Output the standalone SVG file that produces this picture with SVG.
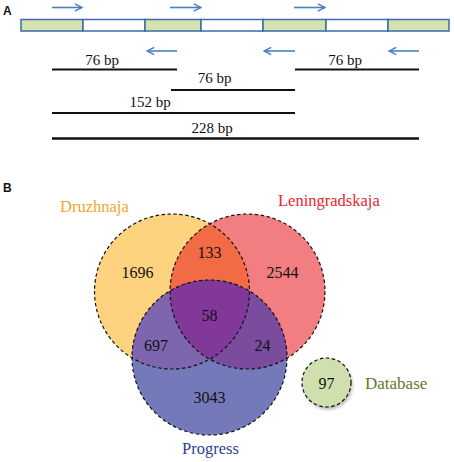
<svg xmlns="http://www.w3.org/2000/svg" width="454" height="462" viewBox="0 0 454 462">
<style>
.lbl{font-family:"Liberation Sans",Arial,sans-serif;font-weight:bold;font-size:12px;fill:#111}
.t{font-family:"Liberation Serif","Times New Roman",serif;font-size:15px;fill:#111;text-anchor:middle}
.n{font-family:"Liberation Serif","Times New Roman",serif;font-size:16px;fill:#111;text-anchor:middle}
.name{font-family:"Liberation Serif","Times New Roman",serif;font-size:16.5px}
.seg{stroke:#3d6ba8;stroke-width:1.5}
.g{fill:#d4e2af}
.w{fill:#fff}
.arr{stroke:#4a80c4;stroke-width:1.6;fill:none}
.bar{stroke:#111;stroke-width:2}
.out{fill:none;stroke:#111;stroke-width:1.2;stroke-dasharray:3.5 2.5}
</style>
<defs>
<marker id="ah" viewBox="0 0 10 10" refX="9" refY="5" markerWidth="9" markerHeight="9" markerUnits="userSpaceOnUse" orient="auto">
<path d="M1,1 L9,5 L1,9" fill="none" stroke="#4a80c4" stroke-width="1.6"/>
</marker>
<clipPath id="cD"><circle cx="172" cy="291.5" r="77.5"/></clipPath>
<clipPath id="cL"><circle cx="247.5" cy="291.5" r="77.5"/></clipPath>
<filter id="sh" x="-30%" y="-30%" width="160%" height="160%"><feGaussianBlur stdDeviation="1.5"/></filter>
</defs>

<text class="lbl" x="3" y="15">A</text>
<g id="gene">
<rect class="seg g" x="21" y="19.5" width="62" height="11.5"/>
<rect class="seg w" x="83" y="19.5" width="62" height="11.5"/>
<rect class="seg g" x="145" y="19.5" width="56" height="11.5"/>
<rect class="seg w" x="201" y="19.5" width="62" height="11.5"/>
<rect class="seg g" x="263" y="19.5" width="63" height="11.5"/>
<rect class="seg w" x="326" y="19.5" width="62" height="11.5"/>
<rect class="seg g" x="388" y="19.5" width="61" height="11.5"/>
</g>
<g id="primers">
<line class="arr" x1="52" y1="7.5" x2="82" y2="7.5" marker-end="url(#ah)"/>
<line class="arr" x1="170" y1="7.5" x2="201" y2="7.5" marker-end="url(#ah)"/>
<line class="arr" x1="294" y1="7.5" x2="325" y2="7.5" marker-end="url(#ah)"/>
<line class="arr" x1="177" y1="51" x2="147" y2="51" marker-end="url(#ah)"/>
<line class="arr" x1="295" y1="51" x2="264" y2="51" marker-end="url(#ah)"/>
<line class="arr" x1="419" y1="51" x2="389" y2="51" marker-end="url(#ah)"/>
</g>
<g id="products">
<line class="bar" x1="52" y1="69.5" x2="177" y2="69.5"/>
<text class="t" x="102" y="65">76 bp</text>
<line class="bar" x1="295" y1="69.5" x2="419" y2="69.5"/>
<text class="t" x="345" y="65">76 bp</text>
<line class="bar" x1="171" y1="90" x2="295" y2="90"/>
<text class="t" x="214.5" y="83">76 bp</text>
<line class="bar" x1="52" y1="113" x2="295" y2="113"/>
<text class="t" x="150" y="107">152 bp</text>
<line class="bar" x1="52" y1="138.5" x2="419" y2="138.5" style="stroke-width:2.4"/>
<text class="t" x="212" y="132.5">228 bp</text>
</g>

<text class="lbl" x="3" y="192">B</text>
<g id="venn">
<circle id="Druzhnaja" cx="172" cy="291.5" r="77.5" fill="#fed37f"/>
<circle id="Leningradskaja" cx="247.5" cy="291.5" r="77.5" fill="#f37e82"/>
<circle cx="247.5" cy="291.5" r="77.5" fill="#f36b45" clip-path="url(#cD)"/>
<circle id="Progress" cx="209.5" cy="357.5" r="77.5" fill="#7479ba"/>
<circle cx="209.5" cy="357.5" r="77.5" fill="#7e66ae" clip-path="url(#cD)"/>
<circle cx="209.5" cy="357.5" r="77.5" fill="#7b4b9e" clip-path="url(#cL)"/>
<g clip-path="url(#cD)"><circle cx="209.5" cy="357.5" r="77.5" fill="#813899" clip-path="url(#cL)"/></g>
<circle class="out" cx="172" cy="291.5" r="77.5"/>
<circle class="out" cx="247.5" cy="291.5" r="77.5"/>
<circle class="out" cx="209.5" cy="357.5" r="77.5"/>
<text class="n" x="137.5" y="278">1696</text>
<text class="n" x="209.5" y="258">133</text>
<text class="n" x="282.5" y="278">2544</text>
<text class="n" x="209.5" y="321">58</text>
<text class="n" x="156" y="351">697</text>
<text class="n" x="262.5" y="351">24</text>
<text class="n" x="209.5" y="403">3043</text>
<text class="name" x="60" y="212" fill="#f5a52a">Druzhnaja</text>
<text class="name" x="278" y="206" fill="#e8262d">Leningradskaja</text>
<text class="name" x="182" y="454" fill="#2f3d94">Progress</text>
</g>
<g id="database">
<circle cx="328" cy="385" r="24.5" fill="#888" opacity="0.6" filter="url(#sh)"/>
<circle cx="326.5" cy="382.5" r="24.5" fill="#d0dfae"/>
<circle class="out" cx="326.5" cy="382.5" r="24.5"/>
<text class="n" x="326.5" y="388.5">97</text>
<text class="name" x="365" y="389" fill="#5f7a2a" style="font-size:17px">Database</text>
</g>
</svg>
